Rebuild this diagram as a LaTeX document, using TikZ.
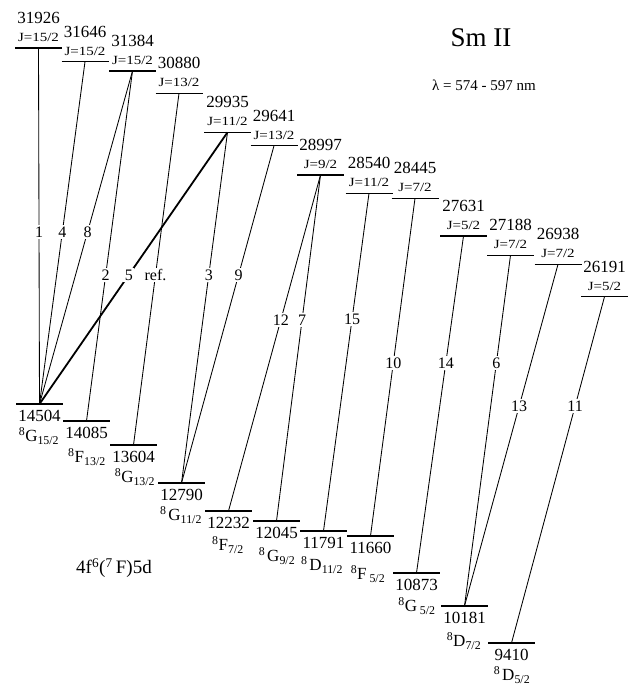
\documentclass[tikz,border=0pt]{standalone}
\usepackage{fontspec}
\setmainfont{Liberation Serif}
\newfontfamily\jfont[FakeStretch=1.2]{Liberation Serif}
\tikzset{
  levelline/.style={line width=1.1pt},
  trans/.style={line width=0.85pt},
  transthick/.style={line width=1.8pt},
  enum/.style={inner sep=0pt, font=\fontsize{17}{17}\selectfont},
  jlab/.style={inner sep=0pt, font=\jfont\fontsize{12.5}{12.5}\selectfont},
  tlab/.style={fill=white, inner sep=1.5pt, font=\fontsize{16}{16}\selectfont},
  termlab/.style={inner sep=0pt, font=\fontsize{17}{17}\selectfont},
}
\newcommand\trm[3]{\textsuperscript{#1}#2\textsubscript{#3}}
\newcommand\ulev[5]{%
  \coordinate (#1) at (#2,#3);
  \draw[levelline] ({#2-23.5},#3) coordinate (#1-l) -- ({#2+23.5},#3) coordinate (#1-r);
  \node[enum] (#1-e) at ({#2},{#3-30}) {#4};
  \node[jlab] (#1-j) at ({#2},{#3-10.5}) {J=#5};
}
\newcommand\llev[7]{%
  \coordinate (#1) at (#2,#3);
  \draw[levelline] ({#2-23.5},#3) coordinate (#1-l) -- ({#2+23.5},#3) coordinate (#1-r);
  \node[enum] (#1-e) at ({#2},{#3+12}) {#4};
  \node[termlab] (#1-t) at (#5,#6) {#7};
}
\begin{document}
\begin{tikzpicture}[x=1pt,y=-1pt]
\useasboundingbox (0,0) rectangle (632,686);
% upper levels
\ulev{U31926}{38.5}{48}{31926}{15/2}
\ulev{U31646}{85}{61.7}{31646}{15/2}
\ulev{U31384}{132.5}{71}{31384}{15/2}
\ulev{U30880}{179}{93.3}{30880}{13/2}
\ulev{U29935}{227.5}{132.3}{29935}{11/2}
\ulev{U29641}{274}{145.7}{29641}{13/2}
\ulev{U28997}{320.5}{175}{28997}{9/2}
\ulev{U28540}{369}{193.3}{28540}{11/2}
\ulev{U28445}{415}{198.3}{28445}{7/2}
\ulev{U27631}{463.5}{236}{27631}{5/2}
\ulev{U27188}{510.5}{255.3}{27188}{7/2}
\ulev{U26938}{558}{264.3}{26938}{7/2}
\ulev{U26191}{604.5}{296.7}{26191}{5/2}
% lower levels
\llev{L14504}{39.5}{404}{14504}{39}{436}{\trm{8}{G}{15/2}}
\llev{L14085}{86.5}{421}{14085}{87}{457}{\trm{8}{F}{13/2}}
\llev{L13604}{133.5}{445}{13604}{135}{477}{\trm{8}{G}{13/2}}
\llev{L12790}{181.5}{483}{12790}{181}{515}{\trm{8\,}{G}{11/2}}
\llev{L12232}{228.5}{511}{12232}{228}{545}{\trm{8}{F}{7/2}}
\llev{L12045}{276.5}{521}{12045}{277}{556}{\trm{8\,}{G}{9/2}}
\llev{L11791}{323.5}{531}{11791}{322}{565}{\trm{8\,}{D}{11/2}}
\llev{L11660}{370.5}{536}{11660}{368}{574}{\trm{8}{F\,}{5/2}}
\llev{L10873}{416.5}{573}{10873}{417}{606}{\trm{8}{G\,}{5/2}}
\llev{L10181}{464.5}{606}{10181}{464}{641}{\trm{8}{D}{7/2}}
\llev{L9410}{511.5}{643}{9410}{512}{675}{\trm{8\,}{D}{5/2}}
% transitions
\draw[trans] (U31926) -- node[tlab,pos=0.517] (t1) {1} (L14504);
\draw[trans] (U31646) -- node[tlab,pos=0.4975] (t4) {4} (L14504);
\draw[trans] (U31384) -- node[tlab,pos=0.4835] (t8) {8} (L14504);
\draw[trans] (U31384) -- node[tlab,pos=0.583] (t2) {2} (L14085);
\draw[transthick] (U29935) -- node[tlab,pos=0.525] (t5) {5} (L14504);
\draw[trans] (U30880) -- node[tlab,pos=0.5166] (tref) {ref.} (L13604);
\draw[trans] (U29935) -- node[tlab,pos=0.407] (t3) {3} (L12790);
\draw[trans] (U29641) -- node[tlab,pos=0.383] (t9) {9} (L12790);
\draw[trans] (U28997) -- node[tlab,pos=0.4315] (t12) {12} (L12232);
\draw[trans] (U28997) -- node[tlab,pos=0.419] (t7) {7} (L12045);
\draw[trans] (U28540) -- node[tlab,pos=0.372] (t15) {15} (L11791);
\draw[trans] (U28445) -- node[tlab,pos=0.4877] (t10) {10} (L11660);
\draw[trans] (U27631) -- node[tlab,pos=0.377] (t14) {14} (L10873);
\draw[trans] (U27188) -- node[tlab,pos=0.307] (t6) {6} (L10181);
\draw[trans] (U26938) -- node[tlab,pos=0.4147] (t13) {13} (L10181);
\draw[trans] (U26191) -- node[tlab,pos=0.3156] (t11) {11} (L9410);
% texts
\node[inner sep=0pt, font=\fontsize{27}{27}\selectfont] (title) at (481,38) {Sm II};
\node[inner sep=0pt, font=\fontsize{15}{15}\selectfont] (lambda) at (484,85) {λ = 574 - 597 nm};
\node[inner sep=0pt, font=\fontsize{19}{19}\selectfont] (config) at (114,568) {4f\textsuperscript{6}(\textsuperscript{7}\,F)5d};
\end{tikzpicture}
\end{document}
